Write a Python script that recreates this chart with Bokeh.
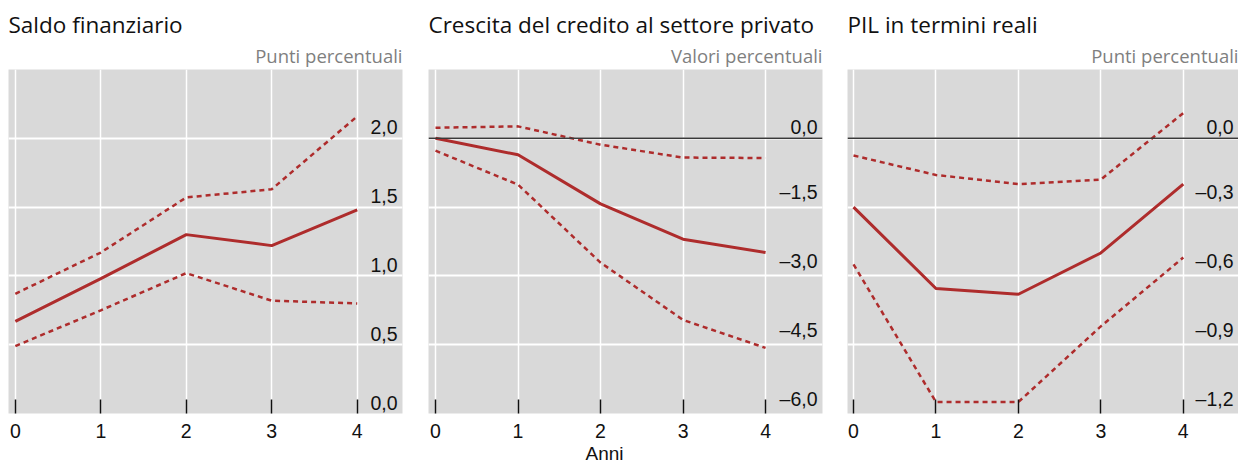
from bokeh.plotting import figure
from bokeh.layouts import row
from bokeh.models import Range1d, FixedTicker, Span, Title
from bokeh.core.properties import value
from bokeh.embed import file_html
from bokeh.resources import INLINE

# ---------------- data ----------------
years = [0, 1, 2, 3, 4]

titles = ["Saldo finanziario", "Crescita del credito al settore privato", "PIL in termini reali"]
units = ["Punti percentuali", "Valori percentuali", "Punti percentuali"]

saldo_central = [0.67, 0.98, 1.30, 1.22, 1.48]
saldo_upper = [0.87, 1.17, 1.57, 1.63, 2.16]
saldo_lower = [0.49, 0.75, 1.02, 0.82, 0.80]

credito_central = [0.0, -0.36, -1.43, -2.20, -2.49]
credito_upper = [0.23, 0.26, -0.14, -0.42, -0.43]
credito_lower = [-0.27, -1.01, -2.71, -3.96, -4.57]

pil_central = [-0.30, -0.655, -0.68, -0.50, -0.20]
pil_upper = [-0.075, -0.16, -0.20, -0.18, 0.11]
pil_lower = [-0.55, -1.15, -1.15, -0.82, -0.52]

saldo_ticks = [0.0, 0.5, 1.0, 1.5, 2.0]
saldo_tick_labels = ["0,0", "0,5", "1,0", "1,5", "2,0"]
credito_ticks = [-6.0, -4.5, -3.0, -1.5, 0.0]
credito_tick_labels = ["–6,0", "–4,5", "–3,0", "–1,5", "0,0"]
pil_ticks = [-1.2, -0.9, -0.6, -0.3, 0.0]
pil_tick_labels = ["–1,2", "–0,9", "–0,6", "–0,3", "0,0"]

x_label = "Anni"

# ---------------- style / layout ----------------
RED = "#AE2C2C"
BG = "#D9D9D9"
TITLE_FONT = "Open Sans"
NUM_FONT = "Liberation Sans"

panels = [
    dict(central=saldo_central, upper=saldo_upper, lower=saldo_lower,
         ticks=saldo_ticks, labels=saldo_tick_labels, yr=(0.0, 2.5), xr=(-0.08, 4.53),
         fw=394, bl=8, br=13, zero=False, xlab=False),
    dict(central=credito_central, upper=credito_upper, lower=credito_lower,
         ticks=credito_ticks, labels=credito_tick_labels, yr=(-6.0, 1.5), xr=(-0.085, 4.69),
         fw=394, bl=13, br=12, zero=True, xlab=True),
    dict(central=pil_central, upper=pil_upper, lower=pil_lower,
         ticks=pil_ticks, labels=pil_tick_labels, yr=(-1.2, 0.3), xr=(-0.073, 4.67),
         fw=391, bl=13, br=0, zero=True, xlab=False),
]

figs = []
for i, pd_ in enumerate(panels):
    p = figure(output_backend="svg", toolbar_location=None,
               frame_width=pd_["fw"], frame_height=344,
               x_range=Range1d(*pd_["xr"]), y_range=Range1d(*pd_["yr"]),
               min_border_left=pd_["bl"], min_border_right=pd_["br"],
               min_border_top=69, min_border_bottom=36,
               background_fill_color=BG, border_fill_color="white",
               outline_line_color=None, y_axis_location=None)

    # titles (subtitle first -> closest to the frame)
    p.add_layout(Title(text=units[i], align="right", text_font=TITLE_FONT,
                       text_font_size="18.5px", text_font_style="normal",
                       text_color="#7F7F7F", standoff=3), "above")
    p.add_layout(Title(text=titles[i], align="left", text_font=TITLE_FONT,
                       text_font_size="22.5px", text_font_style="normal",
                       text_color="#111111", standoff=0), "above")

    # grid
    p.xgrid.ticker = FixedTicker(ticks=years)
    p.ygrid.ticker = FixedTicker(ticks=pd_["ticks"])
    p.xgrid.grid_line_color = "white"
    p.ygrid.grid_line_color = "white"
    p.xgrid.grid_line_width = 1.5
    p.ygrid.grid_line_width = 2

    # x axis
    ax = p.xaxis[0]
    ax.ticker = FixedTicker(ticks=years)
    ax.axis_line_color = None
    ax.major_tick_in = 14
    ax.major_tick_out = 0
    ax.major_tick_line_color = "#111111"
    ax.major_tick_line_width = 1.5
    ax.minor_tick_line_color = None
    ax.major_label_text_font = NUM_FONT
    ax.major_label_text_font_size = "19.5px"
    ax.major_label_text_color = "#111111"
    ax.major_label_standoff = 10

    if pd_["zero"]:
        p.add_layout(Span(location=0, dimension="width", line_color="#3A3A3A", line_width=1.5))

    p.line(years, pd_["upper"], line_color=RED, line_width=2.5, line_dash="5 4")
    p.line(years, pd_["lower"], line_color=RED, line_width=2.5, line_dash="5 4")
    p.line(years, pd_["central"], line_color=RED, line_width=3)

    # y tick labels inside the frame, right aligned, above the grid line
    p.text(x=[pd_["xr"][1]] * len(pd_["ticks"]), y=pd_["ticks"], text=pd_["labels"],
           text_align="right", text_baseline="bottom",
           x_offset=-5, y_offset=-4,
           text_font=value(NUM_FONT), text_font_size="19.5px", text_color="#111111")

    if pd_["xlab"]:
        p.add_layout(Title(text=x_label, align="left", offset=157, standoff=1,
                           text_font=NUM_FONT, text_font_size="19px",
                           text_font_style="normal", text_color="#111111",
                           text_line_height=1.0), "below")
    figs.append(p)

layout = row(*figs, spacing=0)
open("out.html", "w").write(file_html(layout, INLINE))
